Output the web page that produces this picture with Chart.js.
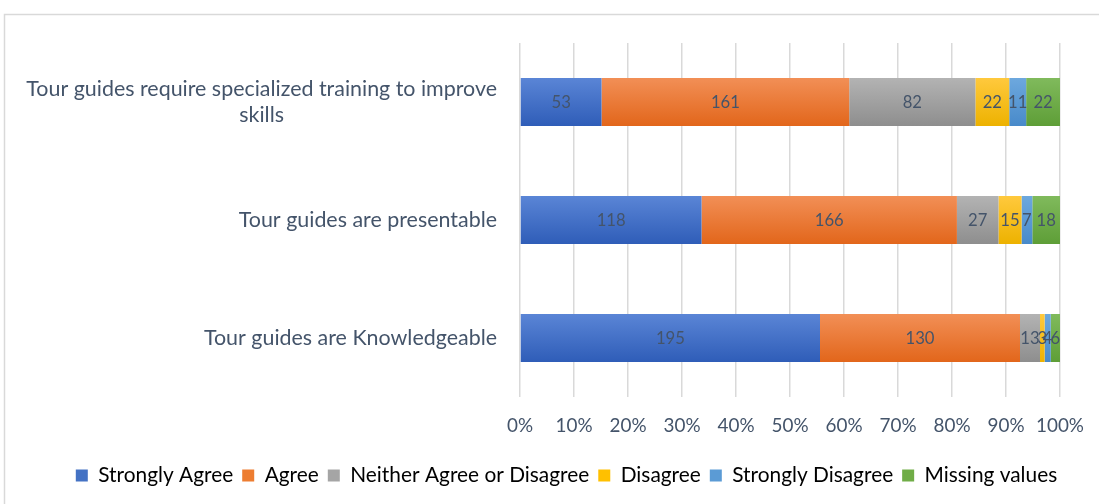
<!DOCTYPE html>
<html>
<head>
<meta charset="utf-8">
<script src="https://cdn.jsdelivr.net/npm/chart.js@4"></script>
<style>
html,body{margin:0;padding:0;background:#fff;}
#wrap{width:1099px;height:504px;position:relative;}
</style>
</head>
<body>
<div id="wrap"><canvas id="c" width="1099" height="504"></canvas></div>
<script>
const categories = [
  ["Tour guides require specialized training to improve", "skills"],
  ["Tour guides are presentable"],
  ["Tour guides are Knowledgeable"]
];
const seriesNames = ["Strongly Agree", "Agree", "Neither Agree or Disagree", "Disagree", "Strongly Disagree", "Missing values"];
const stronglyAgree = [53, 118, 195];
const agree = [161, 166, 130];
const neither = [82, 27, 13];
const disagree = [22, 15, 3];
const stronglyDisagree = [11, 7, 4];
const missingValues = [22, 18, 6];
const xTickValues = [0, 10, 20, 30, 40, 50, 60, 70, 80, 90, 100];

const baseColors = ["#4472C4", "#ED7D31", "#A5A5A5", "#FFC000", "#5B9BD5", "#70AD47"];
const gradTop = ["#5A85D6", "#F28F56", "#B3B3B3", "#FFC93D", "#6DA8DE", "#80BA5C"];
const gradBot = ["#2F5DB8", "#E2661B", "#8E8E8E", "#EDB200", "#488ACA", "#5E9E37"];

const allSeries = [stronglyAgree, agree, neither, disagree, stronglyDisagree, missingValues];
const totals = categories.map((_, i) => allSeries.reduce((s, a) => s + a[i], 0));

const FAMILY = "Lato, 'Open Sans', sans-serif";
const TXT = "#44546A";

// font sizes fitted so that text widths match the original rendering
const mctx = document.createElement('canvas').getContext('2d');
function fitSize(text, targetW) {
  mctx.font = "100px " + FAMILY;
  return 100 * targetW / mctx.measureText(text).width;
}
const catSize = fitSize("Tour guides require specialized training to improve", 471);
const tickSize = fitSize("100%", 48);
const dataSize = fitSize("195", 29);
const legendSize = fitSize("Strongly Agree", 135);

function gradFor(k) {
  return function (ctx) {
    const chart = ctx.chart;
    const ca = chart.chartArea;
    if (!ca || !chart.scales.y) return baseColors[k];
    const yc = chart.scales.y.getPixelForValue(ctx.dataIndex);
    const g = chart.ctx.createLinearGradient(0, yc - 24, 0, yc + 24);
    g.addColorStop(0, gradTop[k]);
    g.addColorStop(1, gradBot[k]);
    return g;
  };
}

const datasets = allSeries.map((arr, k) => ({
  label: seriesNames[k],
  raw: arr,
  data: arr.map((v, i) => v / totals[i] * 100),
  backgroundColor: gradFor(k),
  borderWidth: 0,
  barPercentage: 0.9,
  categoryPercentage: 48 / 118 / 0.9
}));

const framePlugin = {
  id: 'frame',
  beforeDraw(chart) {
    const c = chart.ctx;
    c.save();
    c.strokeStyle = '#D9D9D9';
    c.lineWidth = 1.5;
    c.beginPath();
    c.moveTo(4.5, 520);
    c.lineTo(4.5, 14.5);
    c.lineTo(1120, 14.5);
    c.stroke();
    c.restore();
  }
};

const catLabelPlugin = {
  id: 'catLabels',
  afterDraw(chart) {
    const c = chart.ctx;
    const y = chart.scales.y;
    c.save();
    c.font = catSize.toFixed(2) + "px " + FAMILY;
    c.fillStyle = TXT;
    c.textBaseline = 'middle';
    c.textAlign = 'center';
    const right = chart.chartArea.left - 23;
    categories.forEach((lines, i) => {
      const yc = y.getPixelForValue(i);
      const maxW = Math.max(...lines.map(l => c.measureText(l).width));
      const cx = right - maxW / 2;
      const lh = 26;
      const y0 = yc - (lines.length - 1) * lh / 2;
      lines.forEach((l, j) => c.fillText(l, cx, y0 + j * lh));
    });
    c.restore();
  }
};

const dataLabelPlugin = {
  id: 'dataLabels',
  afterDatasetsDraw(chart) {
    const c = chart.ctx;
    c.save();
    c.font = dataSize.toFixed(2) + "px " + FAMILY;
    c.fillStyle = TXT;
    c.textBaseline = 'middle';
    c.textAlign = 'center';
    chart.data.datasets.forEach((ds, k) => {
      const meta = chart.getDatasetMeta(k);
      meta.data.forEach((el, i) => {
        const cx = (el.x + el.base) / 2;
        c.fillText(String(ds.raw[i]), cx, el.y + 1);
      });
    });
    c.restore();
  }
};

const BOTTOM_PAD = 8;
const LEFT_PAD = 34;

new Chart(document.getElementById('c'), {
  type: 'bar',
  data: { labels: categories.map(l => l.join(' ')), datasets },
  options: {
    indexAxis: 'y',
    responsive: false,
    animation: false,
    layout: { padding: { left: LEFT_PAD, right: 0, top: 43, bottom: BOTTOM_PAD } },
    scales: {
      x: {
        stacked: true,
        min: 0, max: 100,
        afterBuildTicks(axis) { axis.ticks = xTickValues.map(v => ({ value: v })); },
        afterFit(axis) {
          const lg = axis.chart.legend;
          const lh = lg && lg.height ? lg.height : 40;
          axis.height = 504 - 397 - BOTTOM_PAD - lh;
          axis.paddingLeft = 0;
          axis.paddingRight = 39;
        },
        grid: { color: '#D9D9D9', lineWidth: 1.5, drawTicks: false },
        border: { display: false },
        ticks: {
          padding: 18,
          maxRotation: 0,
          color: TXT,
          font: { family: FAMILY, size: tickSize },
          callback: v => v + '%'
        }
      },
      y: {
        stacked: true,
        grid: { display: false, drawTicks: false },
        border: { display: false },
        ticks: { display: false },
        afterFit(axis) { axis.width = 520 - LEFT_PAD; }
      }
    },
    plugins: {
      legend: {
        position: 'bottom',
        labels: {
          boxWidth: 12, boxHeight: 12,
          padding: 9,
          color: TXT,
          font: { family: FAMILY, size: legendSize },
          generateLabels(chart) {
            return chart.data.datasets.map((ds, k) => ({
              text: ds.label,
              fillStyle: baseColors[k],
              strokeStyle: baseColors[k],
              lineWidth: 0,
              datasetIndex: k,
              hidden: false
            }));
          }
        }
      },
      tooltip: { enabled: false }
    }
  },
  plugins: [framePlugin, catLabelPlugin, dataLabelPlugin]
});
</script>
</body>
</html>
